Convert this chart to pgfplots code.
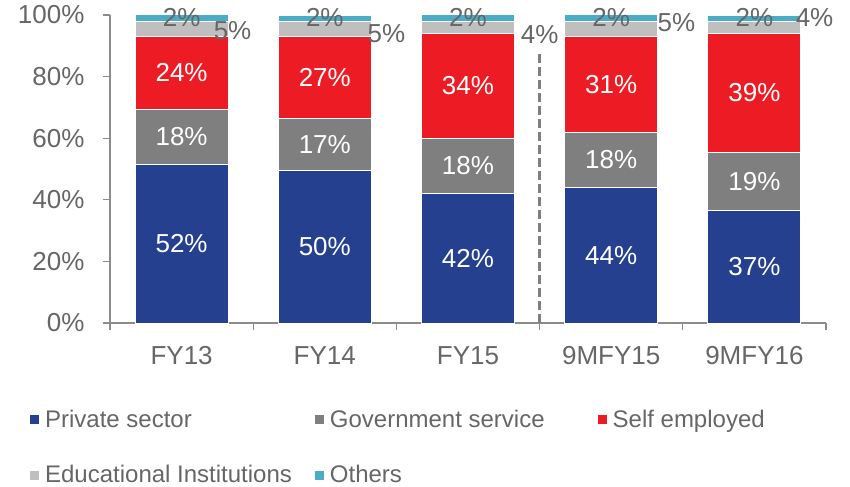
\documentclass[border=0pt]{standalone}
\usepackage{fontspec}
\setmainfont{Liberation Sans}
\usepackage{pgfplots}
\pgfplotsset{compat=1.18}

\definecolor{privblue}{HTML}{25408F}
\definecolor{govgray}{HTML}{7F7F7F}
\definecolor{selfred}{HTML}{ED1C24}
\definecolor{edugray}{HTML}{BFBFBF}
\definecolor{othteal}{HTML}{4BACC6}
\definecolor{axisgray}{HTML}{8C8C8C}
\definecolor{labelgray}{HTML}{666666}

\tikzset{
  inlbl/.style={font=\fontsize{26bp}{31bp}\selectfont, text=white},
  outlbl/.style={font=\fontsize{26bp}{31bp}\selectfont, text=labelgray},
}

\begin{document}
\begin{tikzpicture}
\useasboundingbox (0,0) rectangle (850bp,487bp);
\begin{axis}[
  at={(110bp,164bp)}, anchor=south west,
  scale only axis, width=716bp, height=308bp,
  xmin=-0.5, xmax=4.5, ymin=0, ymax=100,
  ybar stacked, bar width=93bp,
  clip=false,
  axis x line*=bottom, axis y line*=left,
  axis line style={-, draw=axisgray, line width=1.3bp},
  xtick={0,1,2,3,4},
  xticklabels={FY13, FY14, FY15, 9MFY15, 9MFY16},
  minor xtick={-0.5,0.5,1.5,2.5,3.5,4.5},
  ytick={0,20,40,60,80,100},
  yticklabel={\pgfmathprintnumber{\tick}\%},
  tick align=outside,
  major tick length=7bp, minor tick length=7bp,
  major x tick style={draw=none},
  minor x tick style={draw=axisgray, line width=1.3bp},
  ytick style={draw=axisgray, line width=1.3bp},
  /pgf/number format/assume math mode=true,
  ticklabel style={font=\fontsize{26bp}{31bp}\selectfont, text=labelgray},
  xticklabel style={yshift=-13bp},
  yticklabel style={xshift=-15bp},
  legend columns=3,
  legend cell align=left,
  legend image code/.code={\fill[#1, draw=none] (0bp,-4.5bp) rectangle (9bp,4.5bp);},
  legend style={font=\fontsize{24bp}{28bp}\selectfont, text=labelgray,
    draw=none, fill=none, at={(-0.116,-0.268)}, anchor=north west,
    row sep=33bp,
    /tikz/column 1/.style={column sep=4bp},
    /tikz/column 2/.style={column sep=21bp},
    /tikz/column 3/.style={column sep=4bp},
    /tikz/column 4/.style={column sep=51bp},
    /tikz/column 5/.style={column sep=4bp}},
]
% shares normalised so that each bar sums to 100
\addplot[fill=privblue, draw=white, line width=1bp] coordinates {(0,51.49) (1,49.50) (2,42) (3,44) (4,36.63)};
\addplot[fill=govgray, draw=white, line width=1bp] coordinates {(0,17.82) (1,16.83) (2,18) (3,18) (4,18.81)};
\addplot[fill=selfred, draw=white, line width=1bp] coordinates {(0,23.76) (1,26.73) (2,34) (3,31) (4,38.61)};
\addplot[fill=edugray, draw=white, line width=1bp] coordinates {(0,4.95) (1,4.95) (2,4) (3,5) (4,3.96)};
\addplot[fill=othteal, draw=white, line width=1bp] coordinates {(0,1.98) (1,1.98) (2,2) (3,2) (4,1.98)};
\legend{Private sector, Government service, Self employed, Educational Institutions, Others}

% separator between full years and nine-month figures
\draw[govgray, line width=3bp, dash pattern=on 9bp off 4bp] (axis cs:2.5,0) -- (axis cs:2.5,88);

% label anchors (labels are set after the axis so they sit on top of the bars)
\coordinate (a0) at (axis cs:0,25.75);
\coordinate (b0) at (axis cs:0,60.40);
\coordinate (c0) at (axis cs:0,81.19);
\coordinate (a1) at (axis cs:1,24.75);
\coordinate (b1) at (axis cs:1,57.92);
\coordinate (c1) at (axis cs:1,79.70);
\coordinate (a2) at (axis cs:2,21);
\coordinate (b2) at (axis cs:2,51);
\coordinate (c2) at (axis cs:2,77);
\coordinate (a3) at (axis cs:3,22);
\coordinate (b3) at (axis cs:3,53);
\coordinate (c3) at (axis cs:3,77.5);
\coordinate (a4) at (axis cs:4,18.32);
\coordinate (b4) at (axis cs:4,46.04);
\coordinate (c4) at (axis cs:4,74.75);
\coordinate (t0) at (axis cs:0,99.1);
\coordinate (t1) at (axis cs:1,99.1);
\coordinate (t2) at (axis cs:2,99.1);
\coordinate (t3) at (axis cs:3,99.1);
\coordinate (t4) at (axis cs:4,99.1);
\coordinate (e0) at (axis cs:0.356,94.9);
\coordinate (e1) at (axis cs:1.43,93.8);
\coordinate (e2) at (axis cs:2.5,93.8);
\coordinate (e3) at (axis cs:3.455,97.4);
\coordinate (e4) at (axis cs:4.42,99.1);
\end{axis}

\node[inlbl] at (a0) {52\%};
\node[inlbl] at (b0) {18\%};
\node[inlbl] at (c0) {24\%};
\node[inlbl] at (a1) {50\%};
\node[inlbl] at (b1) {17\%};
\node[inlbl] at (c1) {27\%};
\node[inlbl] at (a2) {42\%};
\node[inlbl] at (b2) {18\%};
\node[inlbl] at (c2) {34\%};
\node[inlbl] at (a3) {44\%};
\node[inlbl] at (b3) {18\%};
\node[inlbl] at (c3) {31\%};
\node[inlbl] at (a4) {37\%};
\node[inlbl] at (b4) {19\%};
\node[inlbl] at (c4) {39\%};
\foreach \k in {0,...,4} {\node[outlbl] at (t\k) {2\%};}
\node[outlbl] at (e0) {5\%};
\node[outlbl] at (e1) {5\%};
\node[outlbl] at (e2) {4\%};
\node[outlbl] at (e3) {5\%};
\node[outlbl] at (e4) {4\%};
\end{tikzpicture}
\end{document}
